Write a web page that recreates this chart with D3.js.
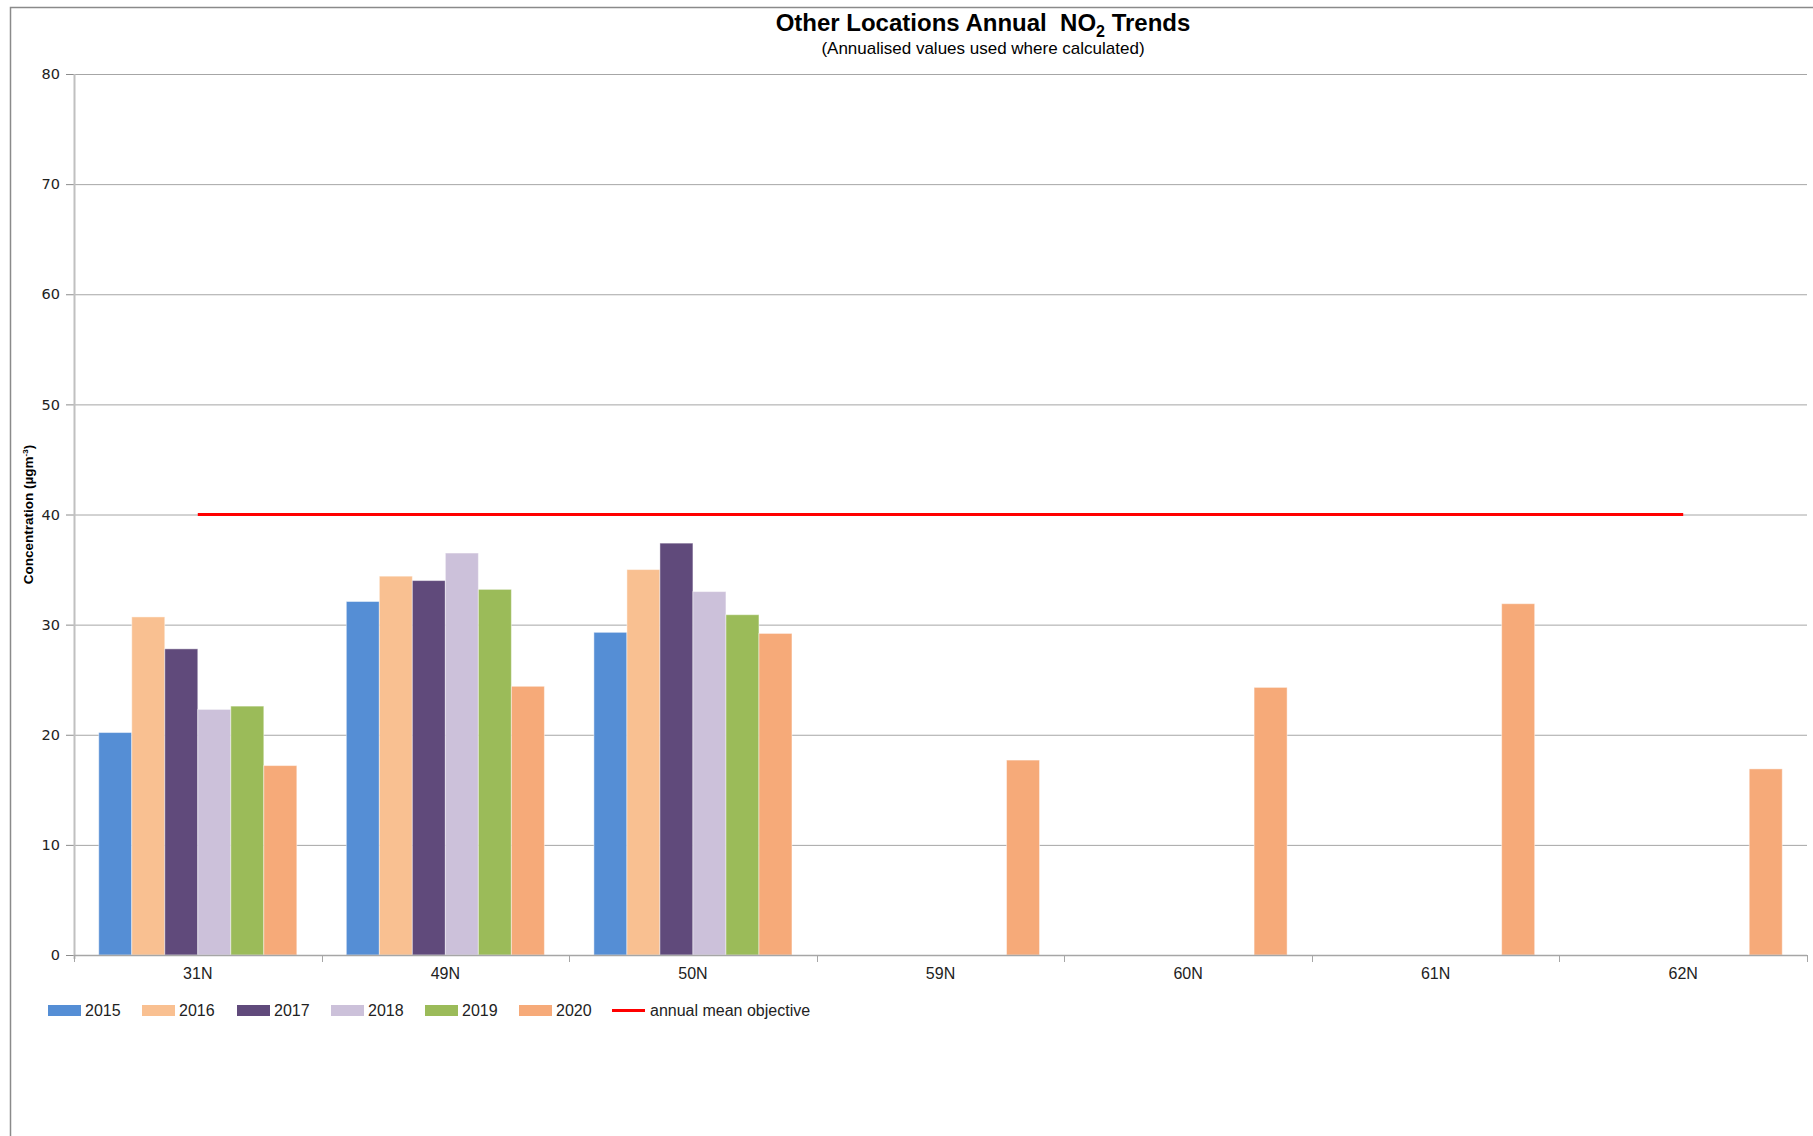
<!DOCTYPE html>
<html>
<head>
<meta charset="utf-8">
<script src="https://cdn.jsdelivr.net/npm/d3@7"></script>
<style>
  body { margin: 0; background: #fff; }
  svg { display: block; font-family: "Liberation Sans", Arial, sans-serif; }
  .grid line { stroke: #a6a6a6; stroke-width: 1; }
  .grid path { display: none; }
  .axis--y path { display: none; }
  .axis--y line { stroke: #8c8c8c; }
  .axis--y text { font-family: "DejaVu Sans", Verdana, sans-serif; font-size: 14.5px; fill: #222; }
  .axis--x path, .axis--x line { display: none; }
  .axis--x text { font-family: "Liberation Sans", Arial, sans-serif; font-size: 16px; fill: #222; }
</style>
</head>
<body>
<svg width="1813" height="1136"></svg>
<script>
// categories and series
var categories = ["31N", "49N", "50N", "59N", "60N", "61N", "62N"];
var years = ["2015", "2016", "2017", "2018", "2019", "2020"];
var values2015 = [20.2, 32.1, 29.3, null, null, null, null];
var values2016 = [30.7, 34.4, 35.0, null, null, null, null];
var values2017 = [27.8, 34.0, 37.4, null, null, null, null];
var values2018 = [22.3, 36.5, 33.0, null, null, null, null];
var values2019 = [22.6, 33.2, 30.9, null, null, null, null];
var values2020 = [17.2, 24.4, 29.2, 17.7, 24.3, 31.9, 16.9];
var objective = [40, 40, 40, 40, 40, 40, 40];
var yTicks = [0, 10, 20, 30, 40, 50, 60, 70, 80];
var colors = ["#558ed5", "#f9c091", "#604a7b", "#ccc1da", "#9bbb59", "#f6aa79"];

var series = [values2015, values2016, values2017, values2018, values2019, values2020];

var svg = d3.select("svg"),
    margin = {top: 74, right: 6, bottom: 181, left: 74},
    width = +svg.attr("width") - margin.left - margin.right,
    height = +svg.attr("height") - margin.top - margin.bottom;

// chart frame (top and left edges only show in the source)
svg.append("path")
    .attr("d", "M10.5,1136 V7.5 H1813")
    .attr("fill", "none")
    .attr("stroke", "#8a8a8a")
    .attr("stroke-width", 1.5);

var g = svg.append("g").attr("transform", "translate(" + margin.left + "," + margin.top + ")");

var x0 = d3.scaleBand().domain(categories).range([0, width]).padding(0);
// 6 bars + 150% gap width
var x1 = d3.scaleBand().domain(years).range([0, x0.bandwidth()]).paddingInner(0).paddingOuter(0.75);
var y = d3.scaleLinear().domain([0, 80]).range([height, 0]);

// gridlines
g.append("g")
    .attr("class", "grid")
    .call(d3.axisLeft(y).tickValues(yTicks.slice(1)).tickSize(-width).tickFormat(""));

// y axis
g.append("g")
    .attr("class", "axis axis--y")
    .call(d3.axisLeft(y).tickValues(yTicks).tickSize(8).tickPadding(6));

g.append("line")
    .attr("x1", 0.5).attr("x2", 0.5)
    .attr("y1", 0).attr("y2", height + 4)
    .attr("stroke", "#c0c0c0")
    .attr("stroke-width", 2);

// bars
var bars = [];
series.forEach(function(vals, i) {
  vals.forEach(function(v, j) {
    if (v != null) bars.push({year: years[i], cat: categories[j], value: v, color: colors[i]});
  });
});

g.selectAll(".bar")
    .data(bars)
    .enter().append("rect")
    .attr("class", "bar")
    .attr("x", function(d) { return x0(d.cat) + x1(d.year); })
    .attr("y", function(d) { return y(d.value); })
    .attr("width", x1.bandwidth())
    .attr("height", function(d) { return height - y(d.value); })
    .attr("fill", function(d) { return d.color; })
    .attr("stroke", "#ffffff")
    .attr("stroke-opacity", 0.45)
    .attr("stroke-width", 1);

// x axis line and boundary ticks
g.append("line")
    .attr("x1", 0).attr("x2", width)
    .attr("y1", height + 0.5).attr("y2", height + 0.5)
    .attr("stroke", "#a6a6a6")
    .attr("stroke-width", 1.5);

var bounds = categories.map(function(c) { return x0(c); }).concat([width]);
g.selectAll(".xtick")
    .data(bounds)
    .enter().append("line")
    .attr("class", "xtick")
    .attr("x1", function(d) { return Math.round(d) + 0.5; })
    .attr("x2", function(d) { return Math.round(d) + 0.5; })
    .attr("y1", height)
    .attr("y2", height + 7)
    .attr("stroke", "#a6a6a6");

g.append("g")
    .attr("class", "axis axis--x")
    .attr("transform", "translate(0," + height + ")")
    .call(d3.axisBottom(x0).tickSize(0).tickPadding(13));

// annual mean objective line
var line = d3.line()
    .x(function(d, i) { return x0(categories[i]) + x0.bandwidth() / 2; })
    .y(function(d) { return y(d); });

g.append("path")
    .datum(objective)
    .attr("d", line)
    .attr("fill", "none")
    .attr("stroke", "#ff0000")
    .attr("stroke-width", 3);

// title
var title = svg.append("text")
    .attr("x", 983)
    .attr("y", 31)
    .attr("text-anchor", "middle")
    .style("white-space", "pre")
    .style("font-family", "'Liberation Sans', Arial, sans-serif")
    .style("font-size", "24px")
    .style("font-weight", "bold")
    .attr("fill", "#000");
title.append("tspan").text("Other Locations Annual  NO");
title.append("tspan").attr("font-size", "16px").attr("dy", 6).text("2");
title.append("tspan").attr("dy", -6).text(" Trends");

svg.append("text")
    .attr("x", 983)
    .attr("y", 54)
    .attr("text-anchor", "middle")
    .style("font-size", "17px")
    .attr("fill", "#000")
    .text("(Annualised values used where calculated)");

// y axis title
var yt = svg.append("text")
    .attr("transform", "translate(33," + (margin.top + height / 2) + ") rotate(-90)")
    .attr("text-anchor", "middle")
    .style("font-size", "13.5px")
    .style("font-weight", "bold")
    .attr("fill", "#000");
yt.append("tspan").text("Concentration (µgm");
yt.append("tspan").attr("font-size", "8px").attr("dy", -5).text("-3");
yt.append("tspan").attr("dy", 5).text(")");

// legend
var legendX = [48, 142, 237, 331, 425, 519];
var legend = svg.append("g").attr("class", "legend");
years.forEach(function(yr, i) {
  legend.append("rect")
      .attr("x", legendX[i])
      .attr("y", 1005)
      .attr("width", 33)
      .attr("height", 11)
      .attr("fill", colors[i]);
  legend.append("text")
      .attr("x", legendX[i] + 37)
      .attr("y", 1016)
      .style("font-size", "16px")
      .attr("fill", "#222")
      .text(yr);
});
legend.append("line")
    .attr("x1", 612).attr("x2", 645)
    .attr("y1", 1010.5).attr("y2", 1010.5)
    .attr("stroke", "#ff0000")
    .attr("stroke-width", 3);
legend.append("text")
    .attr("x", 650)
    .attr("y", 1016)
    .style("font-size", "16px")
    .attr("fill", "#222")
    .text("annual mean objective");
</script>
</body>
</html>
